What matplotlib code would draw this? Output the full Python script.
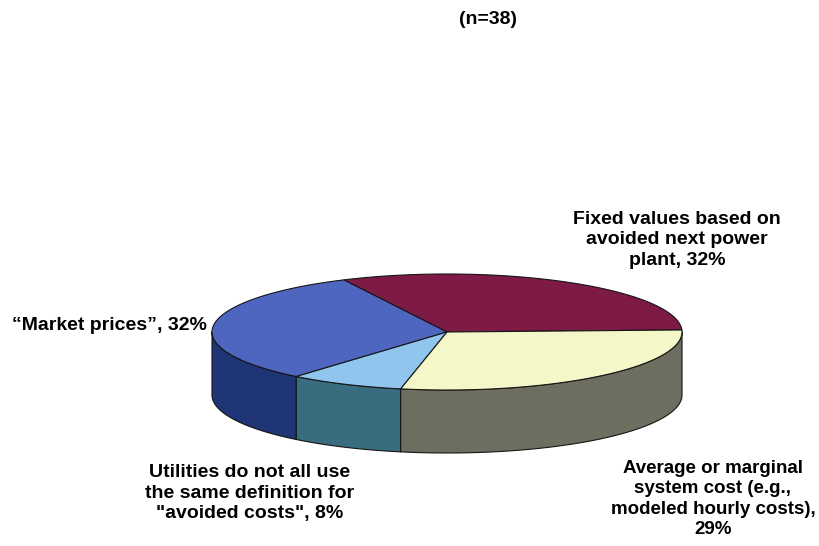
import numpy as np
import matplotlib.pyplot as plt
from matplotlib.patches import Polygon

# Data
labels = ['Fixed values based on\navoided next power\nplant, 32%',
          '\u201cMarket prices\u201d, 32%',
          'Utilities do not all use\nthe same definition for\n"avoided costs", 8%',
          'Average or marginal\nsystem cost (e.g.,\nmodeled hourly costs),\n29%']
values = [32, 32, 8, 29]
top_colors = ['#7d1a45', '#4f66c0', '#90c6ee', '#f4f8c8']
side_colors = ['#4a0f28', '#1f3575', '#3a6c80', '#6d6e60']

plt.rcParams['font.family'] = ['Liberation Sans', 'DejaVu Sans']

fig = plt.figure(figsize=(8.2, 5.46), dpi=100)
ax = fig.add_axes([0, 0, 1, 1])
ax.set_xlim(0, 820)
ax.set_ylim(546, 0)
ax.axis('off')

# pie geometry (pixels)
cx, cy = 447, 332
a, b = 235, 58
h = 63
start = 2


def pt(t, dy=0):
    r = np.radians(t)
    return cx + a * np.cos(r), cy - b * np.sin(r) + dy


fracs = np.array(values) / sum(values)
bounds = start + np.concatenate([[0], np.cumsum(fracs) * 360])

# front side walls (only the lower half of the ellipse is visible)
for i in range(len(values)):
    t0, t1 = max(bounds[i], 180), min(bounds[i + 1], 360)
    if t1 <= t0:
        continue
    ts = np.linspace(t0, t1, 100)
    top = [pt(t) for t in ts]
    bot = [pt(t, h) for t in ts[::-1]]
    ax.add_patch(Polygon(top + bot, closed=True, facecolor=side_colors[i],
                         edgecolor='#151515', lw=0.8, joinstyle='round'))

# top faces
for i in range(len(values)):
    ts = np.linspace(bounds[i], bounds[i + 1], 150)
    verts = [(cx, cy)] + [pt(t) for t in ts]
    ax.add_patch(Polygon(verts, closed=True, facecolor=top_colors[i],
                         edgecolor='#151515', lw=0.8, joinstyle='round'))

fs = 14
ax.text(488, 20, '(n=38)', ha='center', va='center', fontsize=fs, fontweight='bold')
ax.text(677, 240, labels[0], ha='center', va='center', fontsize=fs,
        fontweight='bold', linespacing=1.3)
ax.text(12, 325, labels[1], ha='left', va='center', fontsize=fs, fontweight='bold')
ax.text(250, 493, labels[2], ha='center', va='center', fontsize=fs,
        fontweight='bold', linespacing=1.3)
ax.text(713, 499, labels[3], ha='center', va='center', fontsize=13.5,
        fontweight='bold', linespacing=1.25)

fig.savefig('out.png', dpi=100)
